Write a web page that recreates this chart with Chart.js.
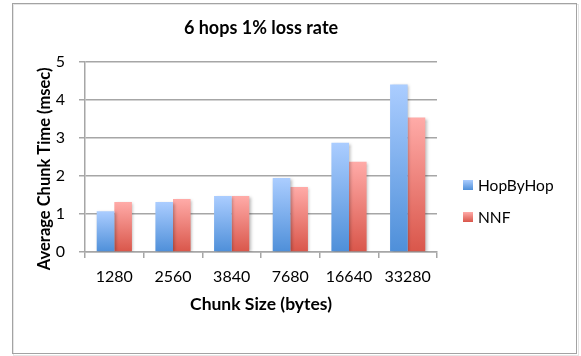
<!DOCTYPE html>
<html>
<head>
<meta charset="utf-8">
<script src="https://cdn.jsdelivr.net/npm/chart.js@4"></script>
<style>
  html, body { margin: 0; padding: 0; background: #ffffff; }
  #wrap { width: 581px; height: 356px; position: relative; }
</style>
</head>
<body>
<div id="wrap"><canvas id="c" width="581" height="356"></canvas></div>
<script>
// Chunk sizes in bytes (x categories)
const chunkSizes = ['1280', '2560', '3840', '7680', '16640', '33280'];
// Average chunk time in msec for each scheme
const hopByHop = [1.07, 1.31, 1.47, 1.94, 2.87, 4.40];
const nnf = [1.31, 1.39, 1.47, 1.71, 2.37, 3.53];
// Y axis tick values
const yTicks = [0, 1, 2, 3, 4, 5];

const FONT = 'Lato, "Open Sans", sans-serif';

const blueStops = ['#abcdff', '#4e8fd9'];
const redStops = ['#ffaba8', '#d9564a'];

// Vertical gradient for each bar, light at top to dark at the baseline
function barGradient(stops) {
  return function (ctx) {
    const chart = ctx.chart;
    const y = chart.scales.y;
    if (!chart.chartArea || !y || ctx.type !== 'data') return stops[1];
    const v = ctx.raw;
    const top = y.getPixelForValue(v);
    const bottom = y.getPixelForValue(0);
    const g = chart.ctx.createLinearGradient(0, top, 0, bottom);
    g.addColorStop(0, stops[0]);
    g.addColorStop(1, stops[1]);
    return g;
  };
}

// Outer frame around the whole chart
const framePlugin = {
  id: 'frame',
  beforeDraw(chart) {
    const c = chart.ctx;
    c.save();
    c.fillStyle = '#ffffff';
    c.fillRect(0, 0, chart.width, chart.height);
    c.strokeStyle = 'rgba(0,0,0,0.10)';
    c.lineWidth = 1;
    c.strokeRect(13.5, 4.5, 565, 351);
    c.strokeStyle = '#a3a3a3';
    c.strokeRect(12.5, 3.5, 564, 350);
    c.restore();
  }
};

// Soft drop shadow under the bars
const shadowPlugin = {
  id: 'barShadow',
  beforeDatasetsDraw(chart) {
    const c = chart.ctx;
    c.save();
    c.shadowColor = 'rgba(0,0,0,0.28)';
    c.shadowBlur = 3;
    c.shadowOffsetX = 1.5;
    c.shadowOffsetY = 1;
  },
  afterDatasetsDraw(chart) {
    chart.ctx.restore();
  }
};

// Legend to the right of the plot area
const sideLegend = {
  id: 'sideLegend',
  afterDraw(chart) {
    const c = chart.ctx;
    const x = 463;
    const rows = [185, 217];
    c.save();
    chart.data.datasets.forEach((ds, i) => {
      const stops = i === 0 ? blueStops : redStops;
      const cy = rows[i];
      const g = c.createLinearGradient(0, cy - 5, 0, cy + 5);
      g.addColorStop(0, stops[0]);
      g.addColorStop(1, stops[1]);
      c.fillStyle = g;
      c.fillRect(x, cy - 5, 10, 10);
      c.fillStyle = '#000000';
      c.font = '15.5px ' + FONT;
      c.textBaseline = 'middle';
      c.textAlign = 'left';
      c.fillText(ds.label, x + 15, cy + 1);
    });
    c.restore();
  }
};

new Chart(document.getElementById('c'), {
  type: 'bar',
  data: {
    labels: chunkSizes,
    datasets: [
      { label: 'HopByHop', data: hopByHop, backgroundColor: barGradient(blueStops) },
      { label: 'NNF', data: nnf, backgroundColor: barGradient(redStops) }
    ]
  },
  options: {
    responsive: false,
    animation: false,
    devicePixelRatio: 1,
    layout: { padding: { left: 0, right: 144, top: 0, bottom: 0 } },
    datasets: {
      bar: { categoryPercentage: 0.6, barPercentage: 1.0, borderWidth: 0 }
    },
    plugins: {
      legend: { display: false },
      tooltip: { enabled: false },
      title: {
        display: true,
        fullSize: false,
        text: '6 hops 1% loss rate',
        color: '#000000',
        font: { family: FONT, size: 18, weight: 'bold', lineHeight: 1.2 },
        padding: { top: 17, bottom: 23 }
      }
    },
    scales: {
      x: {
        afterFit(s) { s.height = 104; },
        grid: {
          display: true,
          drawOnChartArea: false,
          drawTicks: true,
          tickLength: 6,
          color: '#a6a6a6',
          lineWidth: 1.5,
          offset: true
        },
        border: { display: true, color: '#a6a6a6', width: 1.5 },
        ticks: {
          color: '#000000',
          font: { family: FONT, size: 16 },
          padding: 9,
          maxRotation: 0
        },
        title: {
          display: true,
          text: 'Chunk Size (bytes)',
          color: '#000000',
          font: { family: FONT, size: 17.5, weight: 'bold', lineHeight: 1.2 },
          padding: { top: 0, bottom: 41 }
        }
      },
      y: {
        min: 0,
        max: 5,
        afterFit(s) { s.width = 85; },
        afterBuildTicks(s) { s.ticks = yTicks.map(v => ({ value: v })); },
        grid: {
          color: '#a6a6a6',
          lineWidth: 1.5,
          drawTicks: true,
          tickLength: 6
        },
        border: { display: true, color: '#a6a6a6', width: 1.5 },
        ticks: {
          color: '#000000',
          font: { family: FONT, size: 16 },
          padding: 14
        },
        title: {
          display: true,
          // trailing spaces lower the visible text a little below the axis middle
          text: 'Average Chunk Time (msec)\u00a0\u00a0\u00a0\u00a0\u00a0\u00a0',
          color: '#000000',
          font: { family: FONT, size: 16.5, weight: 'bold', lineHeight: 1.2 },
          padding: { top: 35, bottom: 0 }
        }
      }
    }
  },
  plugins: [framePlugin, shadowPlugin, sideLegend]
});
</script>
</body>
</html>
